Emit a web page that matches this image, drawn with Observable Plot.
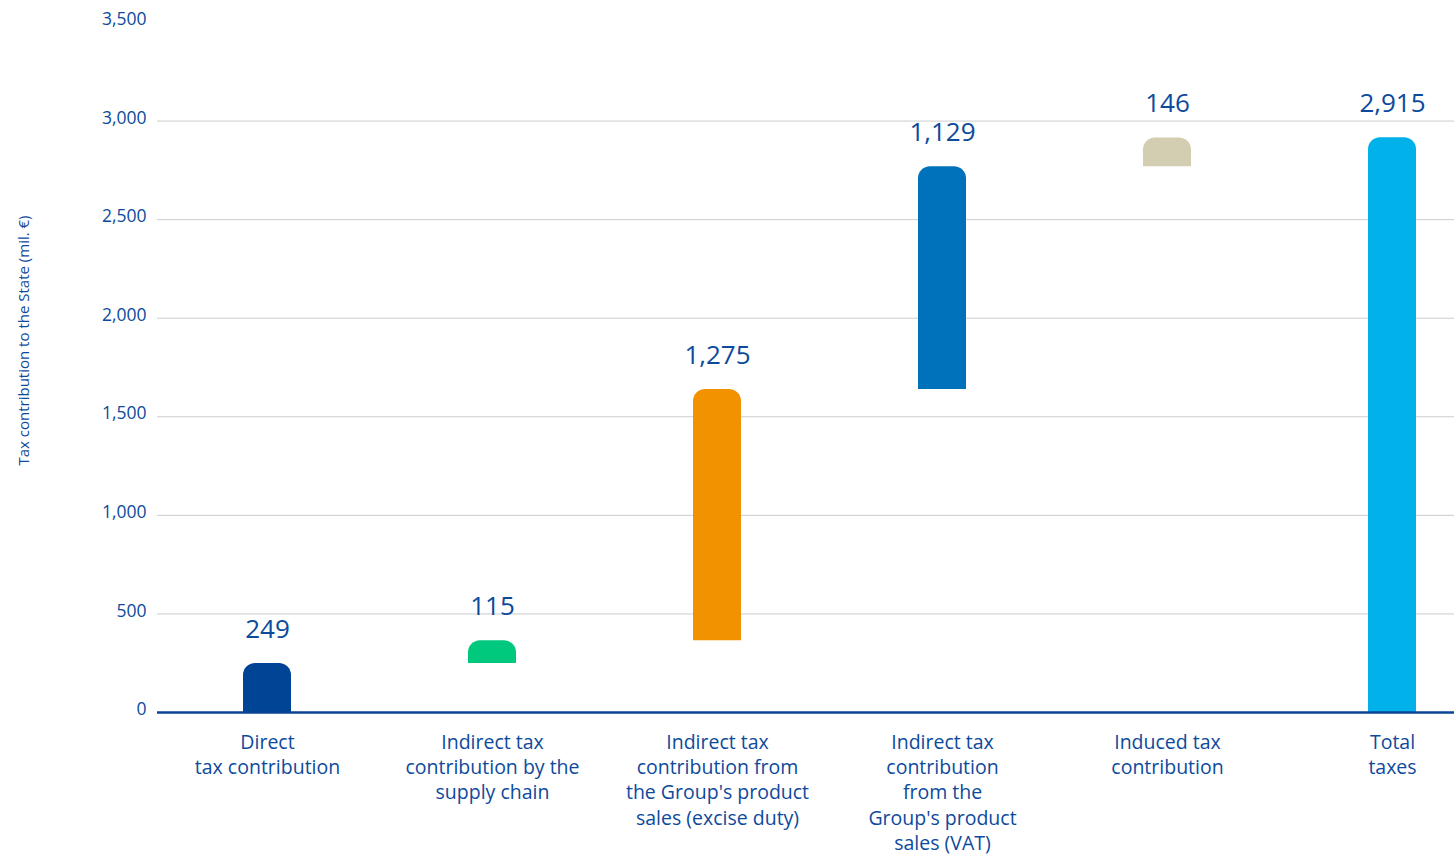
<!DOCTYPE html>
<html>
<head>
<meta charset="utf-8">
<script src="https://cdn.jsdelivr.net/npm/d3@7"></script>
<script src="https://cdn.jsdelivr.net/npm/@observablehq/plot@0.6"></script>
<style>
  html, body { margin: 0; padding: 0; background: #fff; }
  svg { display: block; }
</style>
</head>
<body>
<div id="chart"></div>
<script>
const categories = [
  "Direct\ntax contribution",
  "Indirect tax\ncontribution by the\nsupply chain",
  "Indirect tax\ncontribution from\nthe Group's product\nsales (excise duty)",
  "Indirect tax\ncontribution\nfrom the\nGroup's product\nsales (VAT)",
  "Induced tax\ncontribution",
  "Total\ntaxes"
];
const values = [249, 115, 1275, 1129, 146, 2915];
const isTotal = [false, false, false, false, false, true];
const barColors = ["#004595", "#00c87c", "#f39200", "#0072bc", "#d3cdb1", "#00b1ea"];
const yTicks = [0, 500, 1000, 1500, 2000, 2500, 3000, 3500];
const gridTicks = [500, 1000, 1500, 2000, 2500, 3000];
const yLabel = "Tax contribution to the State (mil. €)";

let running = 0;
const data = categories.map((c, i) => {
  let lo, hi;
  if (isTotal[i]) { lo = 0; hi = values[i]; }
  else { lo = running; hi = running + values[i]; running = hi; }
  return { cat: c, value: values[i], lo, hi, color: barColors[i] };
});

const navy = "#0d4a9c";
const font = "'Open Sans', 'Noto Sans', sans-serif";

const chart = Plot.plot({
  width: 1454,
  height: 856,
  marginLeft: 157,
  marginRight: 0,
  marginTop: 22,
  marginBottom: 144,
  style: { fontFamily: font, color: navy, background: "#fff" },
  x: { type: "band", domain: categories, paddingInner: 0.787, paddingOuter: 0.273, align: 0.69 },
  y: { domain: [0, 3500] },
  color: { type: "identity" },
  marks: [
    Plot.ruleY(gridTicks, { stroke: "#cccccc", strokeWidth: 1 }),
    Plot.axisY({ ticks: yTicks, tickSize: 0, tickPadding: 11, tickFormat: d3.format(","), fontSize: 17.5, fill: navy, dy: -3, label: null }),
    Plot.axisX({ tickSize: 0, tickPadding: 18, fontSize: 19.5, fill: navy, lineHeight: 1.3, label: null, tickFormat: d => d }),
    Plot.text([yLabel], { frameAnchor: "left", textAnchor: "middle", rotate: -90, dx: -133, dy: -27, fontSize: 15, fill: navy }),
    Plot.rectY(data, { x: "cat", y1: "lo", y2: "hi", fill: "color", ry2: 12 }),
    Plot.ruleY([0], { stroke: "#0a4496", strokeWidth: 2.5 }),
    Plot.text(data, { x: "cat", y: "hi", text: d => d3.format(",")(d.value), dy: -34, fontSize: 26, fill: navy, lineAnchor: "middle" })
  ]
});
document.getElementById("chart").appendChild(chart);
</script>
</body>
</html>
